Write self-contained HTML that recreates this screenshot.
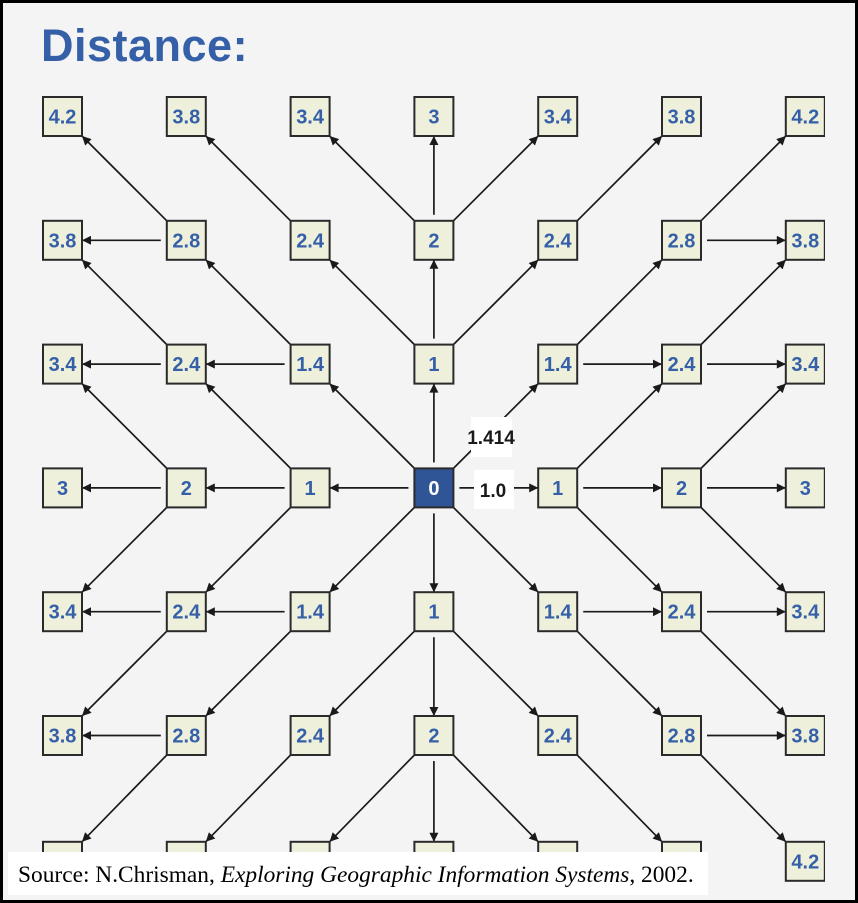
<!DOCTYPE html>
<html><head><meta charset="utf-8"><style>
html,body{margin:0;padding:0;width:858px;height:903px;overflow:hidden;background:#fff}
#frame{position:absolute;left:0;top:0;width:852px;height:897px;border:3px solid #000;background:#f4f4f4;overflow:hidden}
#title{position:absolute;left:38px;top:17px;font:bold 45px "Liberation Sans",sans-serif;color:#3560a8;letter-spacing:0.5px}
#src{position:absolute;left:5px;top:849px;width:700px;height:43px;background:#fff;font:23.4px "Liberation Serif",serif;color:#000;line-height:46px;padding-left:10px;box-sizing:border-box;white-space:nowrap;overflow:hidden}
svg{position:absolute;left:-3px;top:-3px}
</style></head><body>
<div id="frame">
<div id="title">Distance:</div>
<svg id="chart" width="825" height="900">
<defs><marker id="ah" viewBox="0 0 10 10" refX="10" refY="5" markerWidth="10" markerHeight="9" orient="auto" markerUnits="userSpaceOnUse"><path d="M0,0 L10,5 L0,10 z" fill="#1a1a1a"/></marker></defs>
</svg>
<div id="src">Source: N.Chrisman, <i>Exploring Geographic Information Systems</i>, 2002.</div>
</div>
<script>
// distance values (rows 0..6)
const row0 = ["4.2","3.8","3.4","3","3.4","3.8","4.2"];
const row1 = ["3.8","2.8","2.4","2","2.4","2.8","3.8"];
const row2 = ["3.4","2.4","1.4","1","1.4","2.4","3.4"];
const row3 = ["3","2","1","0","1","2","3"];
const values = [row0,row1,row2,row3,row2,row1,row0];
// upper-left quadrant propagation edges [fromCol,fromRow,toCol,toRow]; mirrored to other quadrants
const quadEdges = [[3,3,2,3],[2,3,1,3],[1,3,0,3],[3,3,3,2],[3,2,3,1],[3,1,3,0],[3,3,2,2],
 [2,2,1,2],[2,2,1,1],[3,2,2,1],[2,1,1,0],[3,1,2,0],[1,1,0,0],[1,1,0,1],[2,3,1,2],[1,2,0,1],[1,2,0,2],[1,3,0,2]];
const stepLabels = ["1.414","1.0"];

const svg=document.getElementById('chart');
const NS='http://www.w3.org/2000/svg';
const X0=43,Y0=97,STEP=123.8,S=39;
const bx=c=>X0+c*STEP, by=r=>Y0+r*STEP+(r===6?2:0);
const cx=c=>bx(c)+S/2, cy=r=>by(r)+S/2;
const keys=new Set(); const edges=[];
quadEdges.forEach(e=>{
  [[1,1],[-1,1],[1,-1],[-1,-1]].forEach(([sx,sy])=>{
    const fc=sx>0?e[0]:6-e[0], tc=sx>0?e[2]:6-e[2], fr=sy>0?e[1]:6-e[1], tr=sy>0?e[3]:6-e[3];
    const k=[fc,fr,tc,tr].join();
    if(!keys.has(k)){keys.add(k);edges.push([fc,fr,tc,tr]);}
  });
});
edges.forEach(([fc,fr,tc,tr])=>{
  const dx=Math.sign(tc-fc), dy=Math.sign(tr-fr);
  const diag=dx!==0&&dy!==0;
  const gs=diag?0:6;
  const x1=cx(fc)+dx*(S/2+gs), y1=cy(fr)+dy*(S/2+gs);
  const x2=cx(tc)-dx*(S/2), y2=cy(tr)-dy*(S/2);
  const l=document.createElementNS(NS,'line');
  l.setAttribute('x1',x1);l.setAttribute('y1',y1);l.setAttribute('x2',x2);l.setAttribute('y2',y2);
  l.setAttribute('stroke','#1a1a1a');l.setAttribute('stroke-width','1.7');l.setAttribute('marker-end','url(#ah)');
  
  
  svg.appendChild(l);
});
values.forEach((row,r)=>row.forEach((v,c)=>{
  const g=document.createElementNS(NS,'g');
  
  
  const center=v==="0";
  const rc=document.createElementNS(NS,'rect');
  rc.setAttribute('x',bx(c));rc.setAttribute('y',by(r));rc.setAttribute('width',S);rc.setAttribute('height',S);
  rc.setAttribute('fill',center?'#2f5597':'#eef0dc');rc.setAttribute('stroke','#2a2a2a');rc.setAttribute('stroke-width','2');
  g.appendChild(rc);
  const t=document.createElementNS(NS,'text');
  t.setAttribute('x',cx(c));t.setAttribute('y',cy(r)+7);t.setAttribute('text-anchor','middle');
  t.setAttribute('font-family','Liberation Sans, sans-serif');t.setAttribute('font-weight','bold');t.setAttribute('font-size','20');
  t.setAttribute('fill',center?'#fff':'#3560a8');t.textContent=v;
  g.appendChild(t);svg.appendChild(g);
}));
// step labels
[[471,417,41,40,stepLabels[0],491,444],[474,470,40,39,stepLabels[1],493,497]].forEach(a=>{
  const rc=document.createElementNS(NS,'rect');
  rc.setAttribute('x',a[0]);rc.setAttribute('y',a[1]);rc.setAttribute('width',a[2]);rc.setAttribute('height',a[3]);rc.setAttribute('fill','#fff');
  
  
  svg.appendChild(rc);
  const t=document.createElementNS(NS,'text');
  t.setAttribute('x',a[5]);t.setAttribute('y',a[6]);t.setAttribute('text-anchor','middle');
  t.setAttribute('font-family','Liberation Sans, sans-serif');t.setAttribute('font-weight','bold');t.setAttribute('font-size','19');
  t.setAttribute('fill','#1a1a1a');t.textContent=a[4];
  
  
  svg.appendChild(t);
});
</script>
</body></html>
